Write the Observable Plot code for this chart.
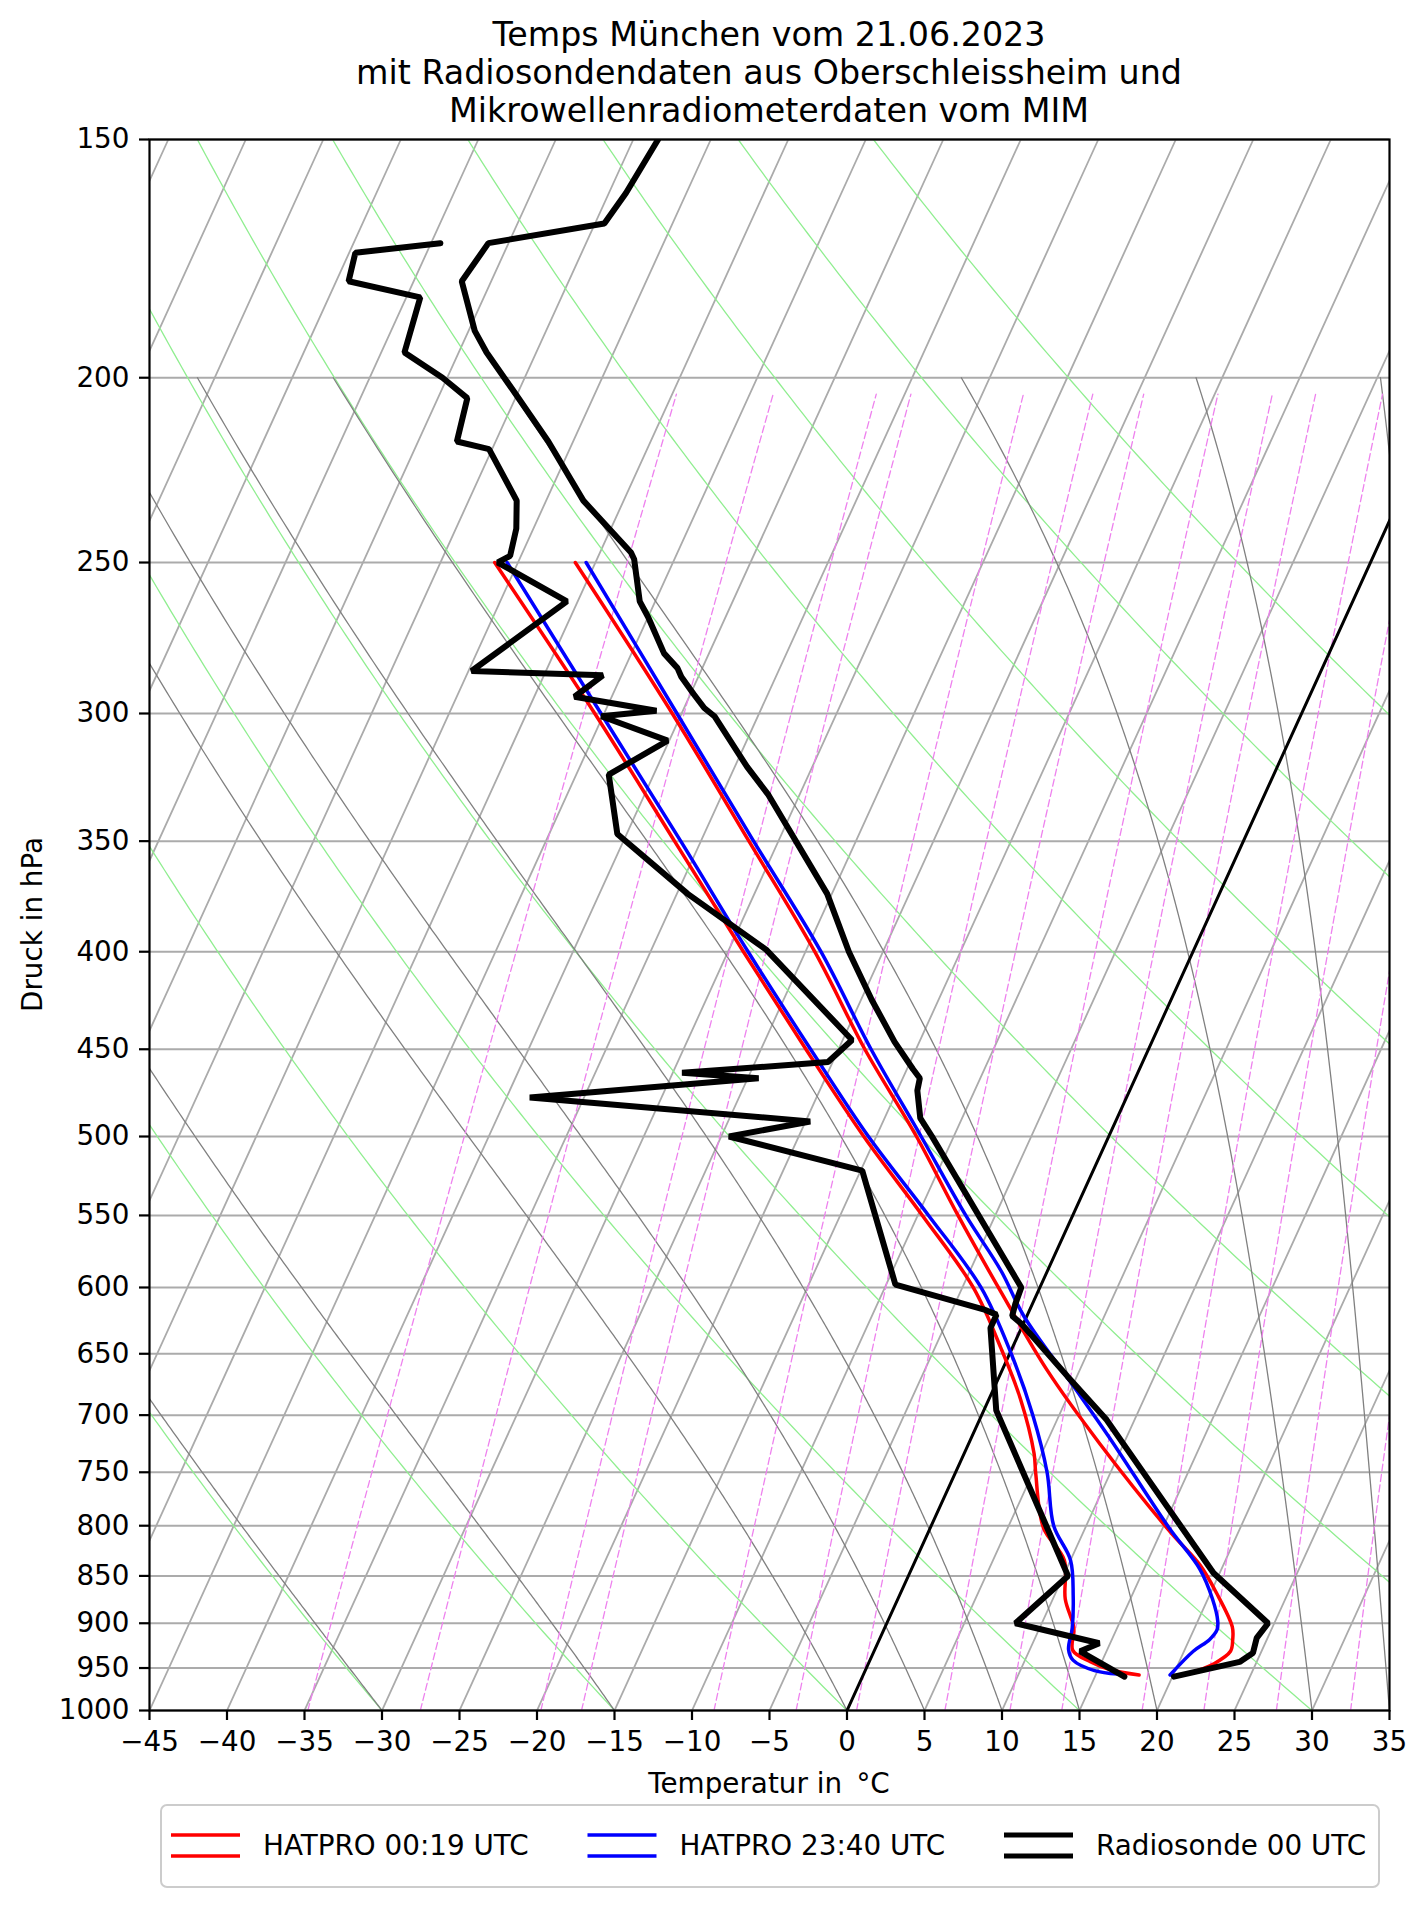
<!DOCTYPE html>
<html><head><meta charset="utf-8">
<script src="https://cdn.jsdelivr.net/npm/d3@7"></script>
<script src="https://cdn.jsdelivr.net/npm/@observablehq/plot@0.6"></script>
<style>
html,body{margin:0;padding:0;background:#fff;overflow:hidden;}
#wrap{position:relative;width:1427px;height:1907px;font-family:"DejaVu Sans",sans-serif;}
#chart{position:absolute;left:0;top:0;}
#over{position:absolute;left:0;top:0;pointer-events:none;}
</style></head><body>
<div id="wrap"><div id="chart"></div>
<svg id="over" width="1427" height="1907" font-family="DejaVu Sans"></svg>
</div>
<script>
// ---------- chart text ----------
const titleLines = ["Temps München vom 21.06.2023", "mit Radiosondendaten aus Oberschleissheim und", "Mikrowellenradiometerdaten vom MIM"];
const xLabel = "Temperatur in \u2009°C";
const yLabel = "Druck in hPa";
const legendLabels = ["HATPRO 00:19 UTC", "HATPRO 23:40 UTC", "Radiosonde 00 UTC"];
const legendColors = ["red", "blue", "black"];

// ---------- axes ----------
const pressureTicks = [150,200,250,300,350,400,450,500,550,600,650,700,750,800,850,900,950,1000];
const tempTicks = [-45,-40,-35,-30,-25,-20,-15,-10,-5,0,5,10,15,20,25,30,35];

// ---------- diagram background line sets ----------
const isothermStarts = d3.range(-140, 36, 5);          // °C
const dryAdiabatTheta = [-30,-15,0,15,30,45,60,75,90,105,120]; // °C at 1000 hPa
const moistAdiabatT0 = [-30,-15,0,5,10,15,20,30,35,40]; // °C at 1000 hPa
const mixingRatios = [0.2,0.4,0.8,1,2,3,4,6,8,10,14,18,24,32]; // g/kg

// ---------- HATPRO 00:19 UTC (red) ----------
const h1_T_p  = [956,945,931,918,904,868,839,806,725,663,603,550,500,450,400,350,300,250];
const h1_T    = [21.0,22.3,23.0,22.8,22.4,20.4,18.5,15.6,8.5,2.9,-2.4,-7.4,-12.4,-18.3,-24.4,-31.9,-40.6,-51.3];
const h1_Td_p = [958,952,943,930,905,874,834,802,751,733,686,646,600,550,500,450,400,350,300,250];
const h1_Td   = [17.8,15.8,14.3,12.8,12.2,10.8,9.6,7.3,5.2,4.5,2.0,-0.7,-4.3,-9.7,-15.8,-22.1,-29.0,-36.7,-45.6,-56.5];

// ---------- HATPRO 23:40 UTC (blue) ----------
const h2_T_p  = [958,931,918,907,898,874,843,802,718,673,621,588,550,500,450,400,350,300,250];
const h2_T    = [19.8,20.6,21.3,21.5,21.3,20.3,18.6,15.4,8.8,4.8,-0.2,-3.0,-6.9,-12.1,-17.9,-24.0,-31.6,-40.3,-50.6];
const h2_Td_p = [957,953,941,929,905,870,834,800,750,700,650,600,550,500,450,400,350,300,250];
const h2_Td   = [16.4,14.8,13.1,12.5,12.1,11.2,10.0,7.9,5.9,3.3,0.1,-3.8,-9.3,-15.5,-21.8,-28.7,-36.3,-45.2,-55.7];

// ---------- Radiosonde 00 UTC (black) ----------
const rs_T_p = [960,943,933,916,900,847,704,668,627,621,612,600,500,489,473,466,461,446,424,400,373,331,320,301,298,293,287,284,279,267,262,249,247,232,216,203,194,189,178,170,166,160,150];
const rs_T   = [20.1,23.9,24.5,24.3,24.6,19.6,8.2,4.4,-0.1,-0.95,-1.1,-1.2,-11.4,-12.7,-13.7,-13.9,-14.6,-16.6,-19.3,-22.2,-25.3,-32.0,-34.2,-37.8,-38.7,-39.8,-41.1,-41.6,-42.9,-45.0,-46.0,-47.6,-48.0,-52.6,-56.6,-60.4,-63.2,-64.6,-66.9,-66.3,-59.4,-58.9,-58.4];
const rs_Td_p = [960,931,922,900,850,696,630,620,616,598,521,500,491,477,466,463,457,445,399,373,347,323,310,301,299,294,286.5,285,262,250,248,240,232,218,216,205,200,194,181.5,178,172,170];
const rs_Td   = [16.9,13.3,14.3,8.3,10.3,0.8,-2.0,-2.0,-3.0,-9.4,-14.9,-24.5,-19.7,-38.5,-24.3,-29.4,-20.3,-19.4,-27.6,-34.3,-40.6,-42.9,-40.1,-45.1,-41.7,-47.4,-46.2,-54.8,-50.7,-56.3,-55.7,-56.1,-56.9,-60.2,-62.5,-63.1,-65.3,-68.5,-69.1,-74.2,-74.6,-69.4];

// ---------- skew-T geometry ----------
const SKEW = 24.36; // °C of horizontal shift per unit ln(1000/p)
const skewX = (T, p) => T + SKEW * Math.log(1000 / p);
const toRows = (ps, Ts, key) => ps.map((p, i) => ({p, x: skewX(Ts[i], p), k: key}));

// thermodynamic helpers for background reference lines
const Rd = 287.04749, Lv = 2.50084e6, Cp = 1004.6662, EPS = 0.6219569, KAPPA = Rd / Cp;
const es = TK => 6.112 * Math.exp(17.67 * (TK - 273.15) / (TK - 29.65));
function moistPath(t0) {
  const f = (p, T) => { const e = es(T); const rs = EPS * e / (p - e);
    return (Rd * T + Lv * rs) / (Cp + Lv * Lv * rs * EPS / (Rd * T * T)) / p; };
  const n = 400, p0 = 1000, p1 = 200, h = (p1 - p0) / n;
  let T = t0 + 273.15, p = p0; const out = [{p, x: skewX(t0, p), k: t0}];
  for (let i = 0; i < n; i++) {
    const k1 = f(p, T), k2 = f(p + h/2, T + h/2*k1), k3 = f(p + h/2, T + h/2*k2), k4 = f(p + h, T + h*k3);
    T += h/6*(k1 + 2*k2 + 2*k3 + k4); p += h;
    out.push({p, x: skewX(T - 273.15, p), k: t0});
  }
  return out;
}
const pFine = d3.range(0, 201).map(i => 1000 * Math.pow(150/1000, i/200));
const isoRows = isothermStarts.flatMap(T => [{p:1000, x: skewX(T,1000), k:T}, {p:150, x: skewX(T,150), k:T}]);
const dryRows = dryAdiabatTheta.flatMap(th => pFine.map(p => ({p, x: skewX((th + 273.15) * Math.pow(p/1000, KAPPA) - 273.15, p), k: th})));
const moistRows = moistAdiabatT0.flatMap(moistPath);
const pMix = d3.range(0, 101).map(i => 1000 + (204 - 1000) * i / 100);
const mixRows = mixingRatios.flatMap(w => pMix.map(p => {
  const wk = w / 1000, e = p * wk / (EPS + wk), v = Math.log(e / 6.112);
  return {p, x: skewX(243.5 * v / (17.67 - v), p), k: w};
}));
const zeroRows = [{p:1000, x: skewX(0,1000)}, {p:150, x: skewX(0,150)}];

const fmtT = d => (d < 0 ? "\u2212" : "") + Math.abs(d);
const FS = 27.8;

const chart = Plot.plot({
  width: 1427, height: 1907,
  marginLeft: 149, marginRight: 38, marginTop: 139, marginBottom: 197,
  style: {fontFamily: "DejaVu Sans", fontSize: FS + "px", background: "white", color: "black"},
  x: {domain: [-45, 35]},
  y: {type: "log", domain: [1000, 150]},
  marks: [
    Plot.ruleY(pressureTicks, {stroke: "#ababab", strokeWidth: 2}),
    Plot.line(isoRows, {x: "x", y: "p", z: "k", stroke: "#ababab", strokeWidth: 1.8, clip: true}),
    Plot.line(dryRows, {x: "x", y: "p", z: "k", stroke: "#90ee90", strokeWidth: 1.3, clip: true}),
    Plot.line(moistRows, {x: "x", y: "p", z: "k", stroke: "#808080", strokeWidth: 1.3, clip: true}),
    Plot.line(mixRows, {x: "x", y: "p", z: "k", stroke: "#ee82ee", strokeWidth: 1.3, strokeDasharray: "7,3.5", clip: true}),
    Plot.line(zeroRows, {x: "x", y: "p", stroke: "black", strokeWidth: 3, clip: true}),
    Plot.line(toRows(h1_T_p, h1_T, "a"), {x: "x", y: "p", stroke: "red", strokeWidth: 3.5, curve: "catmull-rom", clip: true}),
    Plot.line(toRows(h1_Td_p, h1_Td, "b"), {x: "x", y: "p", stroke: "red", strokeWidth: 3.5, curve: "catmull-rom", clip: true}),
    Plot.line(toRows(h2_T_p, h2_T, "c"), {x: "x", y: "p", stroke: "blue", strokeWidth: 3.5, curve: "catmull-rom", clip: true}),
    Plot.line(toRows(h2_Td_p, h2_Td, "d"), {x: "x", y: "p", stroke: "blue", strokeWidth: 3.5, curve: "catmull-rom", clip: true}),
    Plot.line(toRows(rs_T_p, rs_T, "e"), {x: "x", y: "p", stroke: "black", strokeWidth: 6, strokeLinejoin: "miter", clip: true}),
    Plot.line(toRows(rs_Td_p, rs_Td, "f"), {x: "x", y: "p", stroke: "black", strokeWidth: 6, strokeLinejoin: "miter", clip: true}),
    Plot.frame({stroke: "black", strokeWidth: 2.2}),
    Plot.axisX({ticks: tempTicks, tickSize: 10, tickPadding: 11, tickFormat: fmtT, fontSize: FS, strokeWidth: 2.2, label: null}),
    Plot.axisY({ticks: pressureTicks, tickSize: 10, tickPadding: 10, tickFormat: d => String(d), fontSize: FS, strokeWidth: 2.2, label: null})
  ]
});
document.getElementById("chart").appendChild(chart);

// ---------- overlay: title, axis labels, legend ----------
const over = d3.select("#over");
const cx = (149 + 1389) / 2;
[45.5, 83.5, 121.5].forEach((yb, i) =>
  over.append("text").attr("x", cx).attr("y", yb).attr("text-anchor", "middle")
    .attr("font-size", 33.3).text(titleLines[i]));
over.append("text").attr("x", cx).attr("y", 1793).attr("text-anchor", "middle")
  .attr("font-size", FS).text(xLabel);
over.append("text").attr("transform", `translate(42,${(139 + 1710) / 2}) rotate(-90)`)
  .attr("text-anchor", "middle").attr("font-size", FS).text(yLabel);
over.append("rect").attr("x", 161).attr("y", 1805).attr("width", 1218).attr("height", 82)
  .attr("rx", 6).attr("fill", "white").attr("stroke", "#cccccc").attr("stroke-width", 2);
const legX = [171, 587.5, 1004];
legendLabels.forEach((lab, i) => {
  const sw = i === 2 ? 5 : 3.5;
  [1835, 1856].forEach(yy => over.append("line").attr("x1", legX[i]).attr("x2", legX[i] + 69)
    .attr("y1", yy).attr("y2", yy).attr("stroke", legendColors[i]).attr("stroke-width", sw));
  over.append("text").attr("x", legX[i] + 92).attr("y", 1855).attr("font-size", FS).text(lab);
});
</script>
</body></html>
